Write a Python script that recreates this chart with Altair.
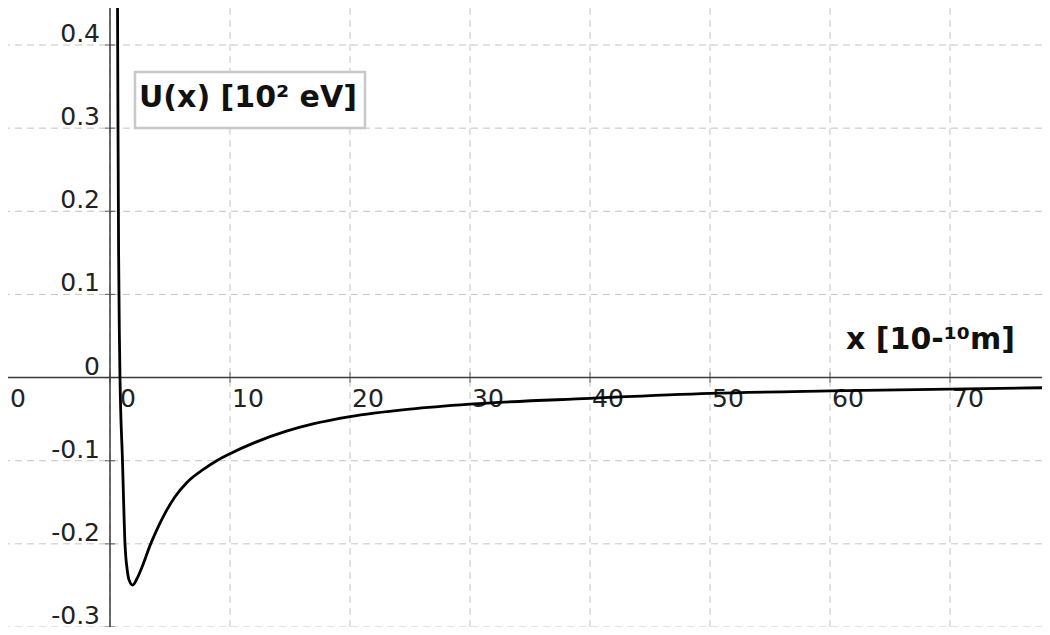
import altair as alt
import pandas as pd

# curve
x_vals = [0.625, 0.667, 0.717, 0.783, 0.833, 1.04, 1.25, 1.44, 1.58, 1.89, 2.28, 2.64, 3.39,
          3.89, 4.58, 5.42, 6.39, 7.78, 8.89, 10, 12, 14.7, 17, 20, 25, 30, 40, 50, 60, 70, 78]
u_vals = [0.455, 0.30, 0.15, 0.05, 0.0, -0.10, -0.20, -0.232, -0.243, -0.2496, -0.241, -0.229,
          -0.20, -0.1834, -0.1633, -0.1434, -0.1265, -0.1105, -0.100, -0.0915, -0.0785, -0.0645,
          -0.0555, -0.047, -0.038, -0.032, -0.025, -0.019, -0.016, -0.0138, -0.0122]

x_ticks = [10, 20, 30, 40, 50, 60, 70]
x_tick_labels = ["10", "20", "30", "40", "50", "60", "70"]
x_grid = [-10, 0, 10, 20, 30, 40, 50, 60, 70]
y_ticks = [-0.3, -0.2, -0.1, 0, 0.1, 0.2, 0.3, 0.4]
y_tick_labels = ["-0.3", "-0.2", "-0.1", "0", "0.1", "0.2", "0.3", "0.4"]
x_zero_label = ["0"]
x_left_label = ["-10"]

y_title = "U(x) [10² eV]"
x_title = "x [10-¹⁰m]"

W, H = 1034, 619
FONT = "DejaVu Sans"
GRID = "#c4c4c4"
AXIS = "#3a3a3a"
FS = 25

xs = alt.Scale(domain=[-8.5, 77.667], nice=False, zero=False)
ys = alt.Scale(domain=[-0.3, 0.4445], nice=False, zero=False)

curve_df = pd.DataFrame({"x": x_vals, "u": u_vals})
xt_df = pd.DataFrame({"t": x_ticks, "lab": x_tick_labels, "z": [0] * len(x_ticks)})
xg_df = pd.DataFrame({"t": x_grid, "z": [0] * len(x_grid)})
yt_df = pd.DataFrame({"t": y_ticks, "lab": y_tick_labels, "z": [0] * len(y_ticks)})
x0_df = pd.DataFrame({"t": [0], "lab": x_zero_label, "z": [0]})
xl_df = pd.DataFrame({"t": [-10], "lab": x_left_label, "z": [0]})
one = pd.DataFrame({"a": [0]})

X = lambda f: alt.X(f, type="quantitative", scale=xs, axis=None)
Y = lambda f: alt.Y(f, type="quantitative", scale=ys, axis=None)

grid_x = alt.Chart(xg_df).mark_rule(color=GRID, strokeWidth=1, strokeDash=[7, 5]).encode(x=X("t"))
grid_y = alt.Chart(yt_df).mark_rule(color=GRID, strokeWidth=1, strokeDash=[7, 5]).encode(y=Y("t"))

axis_x = alt.Chart(one).mark_rule(color=AXIS, strokeWidth=1.5).encode(y=Y("a"))
axis_y = alt.Chart(one).mark_rule(color=AXIS, strokeWidth=1.5).encode(x=X("a"))

ticks_x = alt.Chart(xg_df).mark_tick(color=AXIS, orient="vertical", size=10, thickness=1.2).encode(
    x=X("t"), y=Y("z"))
ticks_y = alt.Chart(yt_df).mark_tick(color=AXIS, orient="horizontal", size=10, thickness=1.2).encode(
    x=X("z"), y=Y("t"))

def xlab(df, dx):
    return alt.Chart(df).mark_text(align="left", baseline="alphabetic", dx=dx, dy=29,
                                   font=FONT, fontSize=FS, color="#222", clip=True).encode(
        x=X("t"), y=Y("z"), text="lab:N")

lab_x = xlab(xt_df, 2)
lab_x0 = xlab(x0_df, 10)
lab_xl = xlab(xl_df, -5)
lab_y = alt.Chart(yt_df).mark_text(align="right", baseline="alphabetic", dx=-10, dy=-3,
                                   font=FONT, fontSize=FS, color="#222").encode(
    x=X("z"), y=Y("t"), text="lab:N")

line = alt.Chart(curve_df).mark_line(color="black", strokeWidth=2.8, interpolate="monotone",
                                     clip=True).encode(x=X("x"), y=Y("u"))

box = alt.Chart(one).mark_rect(fill="white", stroke="#c8c8c8", strokeWidth=2.5).encode(
    x=alt.value(127), x2=alt.value(357), y=alt.value(64), y2=alt.value(120))
t_y = alt.Chart(one).mark_text(align="left", baseline="alphabetic", font=FONT, fontSize=30,
                               fontWeight="bold", color="#111").encode(
    x=alt.value(131), y=alt.value(99), text=alt.value(y_title))
t_x = alt.Chart(one).mark_text(align="left", baseline="alphabetic", font=FONT, fontSize=30,
                               fontWeight="bold", color="#111").encode(
    x=alt.value(838), y=alt.value(341), text=alt.value(x_title))

chart = alt.layer(grid_x, grid_y, axis_x, axis_y, ticks_x, ticks_y, lab_x, lab_x0, lab_xl,
                  lab_y, line, box, t_y, t_x).properties(
    width=W, height=H, padding=0, autosize=alt.AutoSizeParams(type="none"),
    background="white"
).configure_view(stroke=None)

chart.save("out.html", embed_options={"renderer": "svg", "actions": False})
